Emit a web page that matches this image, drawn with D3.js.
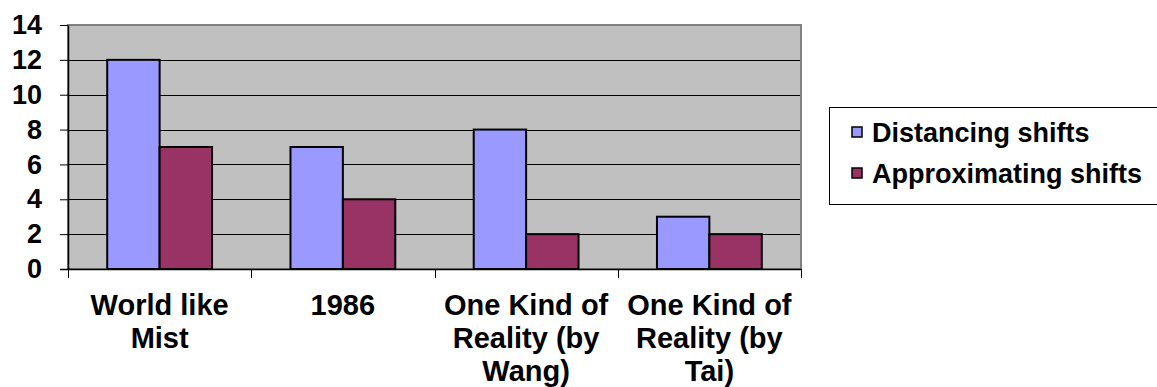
<!DOCTYPE html>
<html>
<head>
<meta charset="utf-8">
<script src="https://cdn.jsdelivr.net/npm/d3@7"></script>
<style>
  html, body { margin: 0; padding: 0; background: #fff; }
  svg { display: block; font-family: Arial, "Liberation Sans", sans-serif; font-weight: bold; }
</style>
</head>
<body>
<svg id="chart" width="1157" height="387"></svg>
<script>
// Chart data
const categories = [
  ["World like", "Mist"],
  ["1986"],
  ["One Kind of", "Reality (by", "Wang)"],
  ["One Kind of", "Reality (by", "Tai)"]
];
const seriesNames = ["Distancing shifts", "Approximating shifts"];
const distancing = [12, 7, 8, 3];
const approximating = [7, 4, 2, 2];
const yTicks = [0, 2, 4, 6, 8, 10, 12, 14];

const colors = ["#9999FF", "#993366"];
const series = [distancing, approximating];

const svg = d3.select("#chart");
const plot = { left: 68, right: 801, top: 25, bottom: 269 };

const x = d3.scaleBand()
  .domain(d3.range(categories.length))
  .range([plot.left, plot.right])
  .paddingInner(0)
  .paddingOuter(0);

const y = d3.scaleLinear().domain([0, 14]).range([plot.bottom, plot.top]);

// Plot area background and border
svg.append("rect")
  .attr("x", plot.left).attr("y", plot.top)
  .attr("width", plot.right - plot.left).attr("height", plot.bottom - plot.top)
  .attr("fill", "#C0C0C0")
  .attr("stroke", "#808080").attr("stroke-width", 2);

// Gridlines
svg.append("g").selectAll("line")
  .data(yTicks.filter(d => d > 0 && d < 14))
  .join("line")
  .attr("x1", plot.left).attr("x2", plot.right - 1)
  .attr("y1", d => Math.round(y(d)) + 0.5).attr("y2", d => Math.round(y(d)) + 0.5)
  .attr("stroke", "#000").attr("stroke-width", 1);

// Bars
const groupWidth = x.bandwidth();
const barW = groupWidth * 0.286;
const xs = d3.scaleBand().domain(d3.range(series.length))
  .range([(groupWidth - 2 * barW) / 2, (groupWidth + 2 * barW) / 2]);

series.forEach((vals, si) => {
  svg.append("g").selectAll("rect")
    .data(vals)
    .join("rect")
    .attr("x", (d, i) => x(i) + xs(si))
    .attr("y", d => y(d))
    .attr("width", xs.bandwidth())
    .attr("height", d => y(0) - y(d))
    .attr("fill", colors[si])
    .attr("stroke", "#000").attr("stroke-width", 2);
});

// Y axis
const yAxis = d3.axisLeft(y).tickValues(yTicks).tickSize(8).tickPadding(18).tickSizeOuter(0);
const gy = svg.append("g").attr("transform", `translate(${plot.left},0)`).call(yAxis);
gy.select(".domain").attr("stroke", "#000").attr("stroke-width", 1.5);
gy.selectAll(".tick line").attr("stroke", "#000");
gy.selectAll(".tick text")
  .attr("fill", "#000")
  .style("font-size", "27px").style("font-weight", "bold")
  .attr("font-family", "Arial, 'Liberation Sans', sans-serif");

// X axis line and boundary ticks
svg.append("line")
  .attr("x1", plot.left - 8).attr("x2", plot.right + 1)
  .attr("y1", plot.bottom + 0.5).attr("y2", plot.bottom + 0.5)
  .attr("stroke", "#000").attr("stroke-width", 1.5);
const bounds = d3.range(categories.length + 1).map(i => i < categories.length ? x(i) : plot.right);
svg.append("g").selectAll("line")
  .data(bounds)
  .join("line")
  .attr("x1", d => Math.round(d) + 0.5).attr("x2", d => Math.round(d) + 0.5)
  .attr("y1", plot.bottom).attr("y2", plot.bottom + 9)
  .attr("stroke", "#000").attr("stroke-width", 1);

// Category labels
const catG = svg.append("g");
categories.forEach((lines, i) => {
  const t = catG.append("text")
    .attr("x", x(i) + groupWidth / 2)
    .attr("y", 315)
    .attr("text-anchor", "middle")
    .style("font-size", "29px");
  lines.forEach((ln, j) => {
    t.append("tspan").attr("x", x(i) + groupWidth / 2).attr("dy", j === 0 ? 0 : 33).text(ln);
  });
});

// Legend
const legend = svg.append("g");
legend.append("rect")
  .attr("x", 829.5).attr("y", 107.5).attr("width", 340).attr("height", 97)
  .attr("fill", "#fff").attr("stroke", "#000").attr("stroke-width", 1);
seriesNames.forEach((name, i) => {
  const cy = 132 + i * 41;
  legend.append("rect")
    .attr("x", 852).attr("y", cy - 5).attr("width", 10).attr("height", 10)
    .attr("fill", colors[i]).attr("stroke", "#000").attr("stroke-width", 1.5);
  legend.append("text")
    .attr("x", 872).attr("y", 142 + i * 41)
    .style("font-size", "27px")
    .text(name);
});
</script>
</body>
</html>
